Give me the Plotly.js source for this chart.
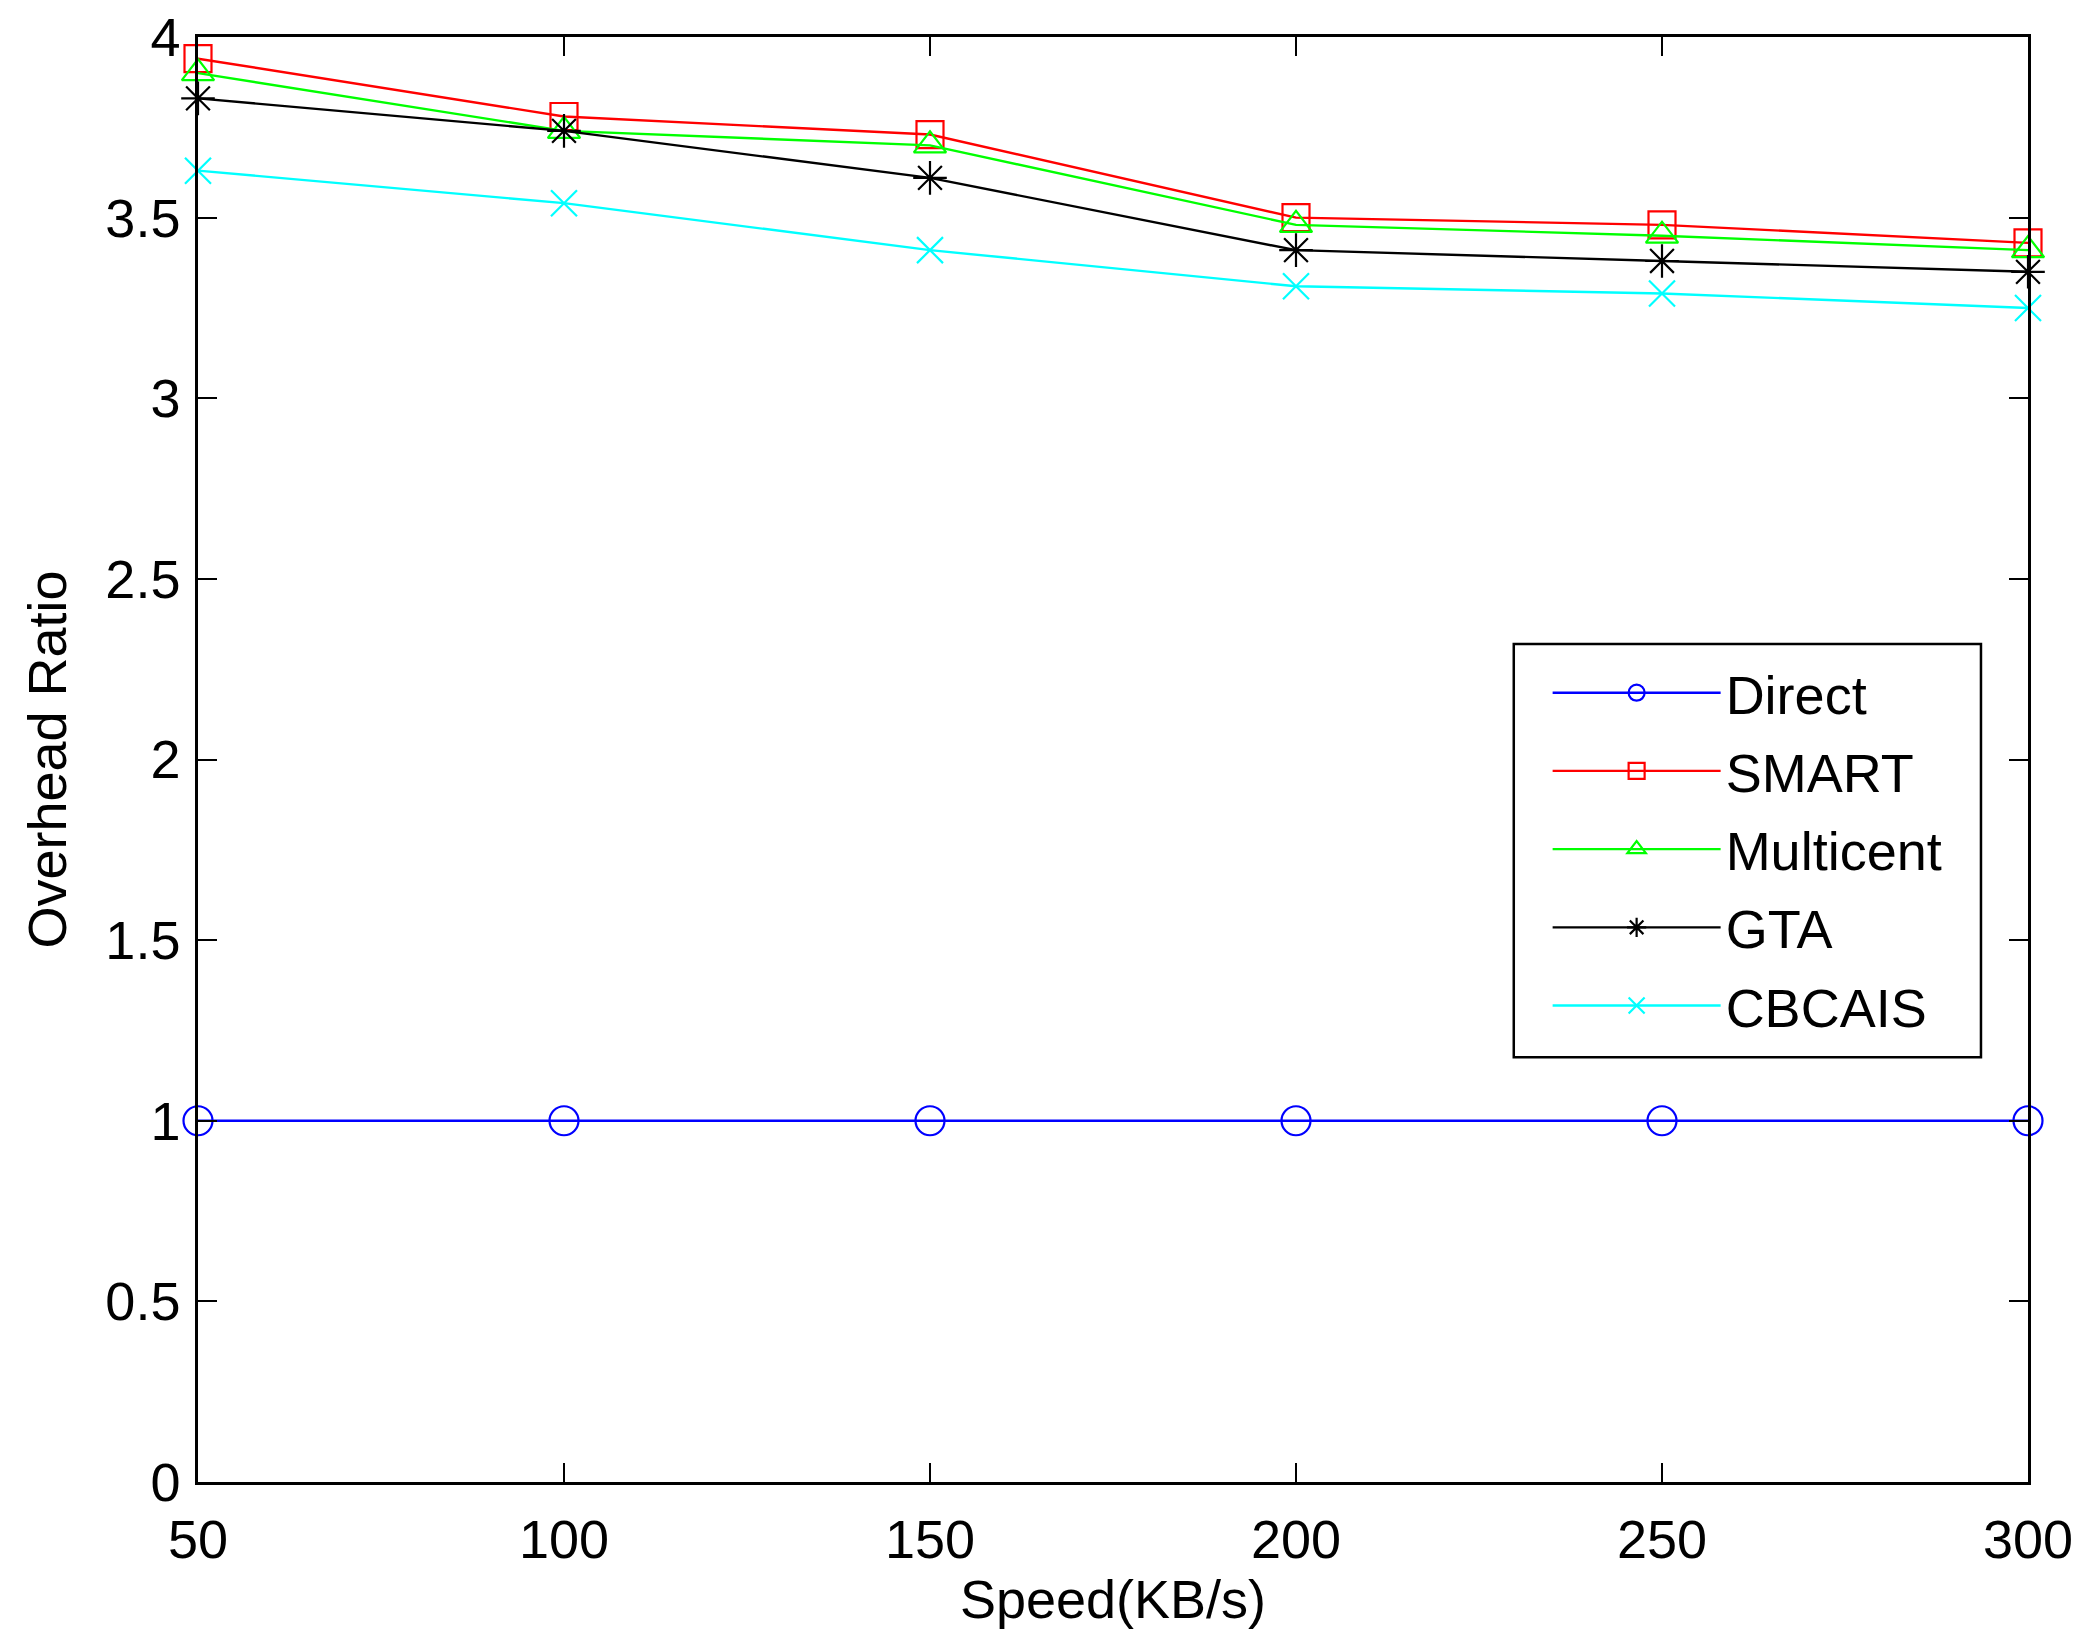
<!DOCTYPE html>
<html>
<head>
<meta charset="utf-8">
<script src="https://cdn.plot.ly/plotly-3.0.1.min.js"></script>
<style>
  html, body { margin: 0; padding: 0; background: #ffffff; }
  #chart { width: 2095px; height: 1651px; }
</style>
</head>
<body>
<div id="chart"></div>
<script>
// Overhead ratio vs. speed
const speeds = [50, 100, 150, 200, 250, 300];

const direct    = [1, 1, 1, 1, 1, 1];
const smart     = [3.94, 3.78, 3.73, 3.50, 3.48, 3.43];
const multicent = [3.90, 3.74, 3.70, 3.48, 3.45, 3.41];
const gta       = [3.83, 3.74, 3.61, 3.41, 3.38, 3.35];
const cbcais    = [3.63, 3.54, 3.41, 3.31, 3.29, 3.25];

const seriesNames = ['Direct', 'SMART', 'Multicent', 'GTA', 'CBCAIS'];
const seriesValues = [direct, smart, multicent, gta, cbcais];

const seriesColors = ['#0000ff', '#ff0000', '#00ff00', '#000000', '#00ffff'];
const seriesSymbols = ['circle-open', 'square-open', 'triangle-up-open', 'asterisk-open', 'x-thin-open'];
const seriesSizes = [29, 27, 28, 28, 26];

const FONT = 'Liberation Sans, Arial, Helvetica, sans-serif';

const traces = seriesNames.map((name, i) => ({
    x: speeds,
    y: seriesValues[i],
    name: name,
    legendgroup: name,
    type: 'scatter',
    mode: 'lines+markers',
    line: { color: seriesColors[i], width: 2.4 },
    marker: {
        symbol: seriesSymbols[i],
        size: seriesSizes[i],
        color: seriesColors[i],
        line: { color: seriesColors[i], width: 2.2 }
    },
    cliponaxis: false
}));

const axisBase = {
    showgrid: false,
    zeroline: false,
    showline: true,
    linecolor: '#000000',
    linewidth: 2.5,
    mirror: 'ticks',
    ticks: 'inside',
    ticklen: 19,
    tickwidth: 2,
    tickcolor: '#000000',
    tickfont: { family: FONT, size: 54, color: '#000000' }
};

const layout = {
    width: 2095,
    height: 1651,
    paper_bgcolor: '#ffffff',
    plot_bgcolor: '#ffffff',
    font: { family: FONT, size: 54, color: '#000000' },
    margin: { t: 37, r: 67, b: 169, l: 198 },
    showlegend: true,
    legend: {
        x: 0.7375,
        y: 0.575,
        xanchor: 'left',
        yanchor: 'top',
        bgcolor: 'rgba(0,0,0,0)',
        borderwidth: 0,
        font: { family: FONT, size: 54, color: '#000000' },
        itemwidth: 168,
        tracegroupgap: 5
    },
    // legend frame, drawn separately so the entries can sit inset like the original
    shapes: [{
        type: 'rect',
        xref: 'paper', yref: 'paper',
        x0: 0.719, x1: 0.9743, y0: 0.294, y1: 0.580,
        line: { color: '#000000', width: 2.5 },
        fillcolor: '#ffffff',
        layer: 'above'
    }],
    xaxis: Object.assign({}, axisBase, {
        range: [50, 300],
        tickvals: speeds,
        ticklabelstandoff: 8,
        title: { text: 'Speed(KB/s)', font: { family: FONT, size: 54 }, standoff: 8 }
    }),
    yaxis: Object.assign({}, axisBase, {
        range: [0, 4],
        dtick: 0.5,
        ticklabelstandoff: 4,
        title: { text: 'Overhead Ratio', font: { family: FONT, size: 54 }, standoff: 22 }
    })
};

Plotly.newPlot('chart', traces, layout, { displayModeBar: false, responsive: false });
</script>
</body>
</html>
